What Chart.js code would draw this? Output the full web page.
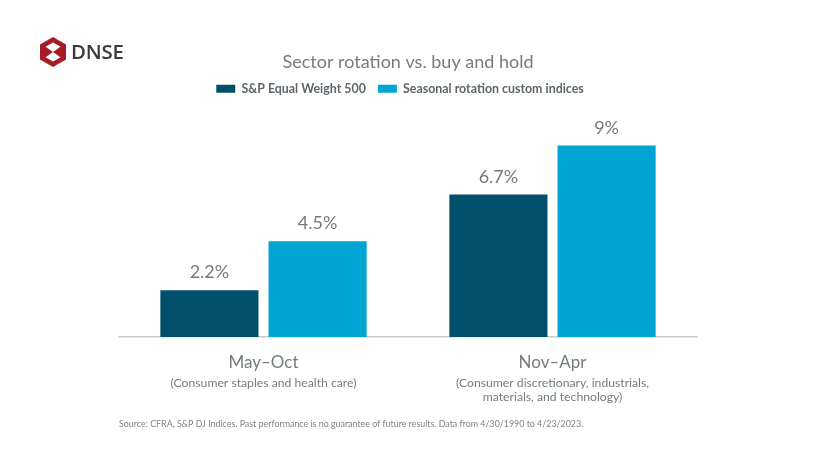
<!DOCTYPE html>
<html><head><meta charset="utf-8">
<script src="https://cdn.jsdelivr.net/npm/chart.js@4"></script>
<style>
html,body{margin:0;padding:0;background:#fff;width:825px;height:450px;overflow:hidden}
#wrap{position:relative;width:825px;height:450px;filter:blur(0.35px)}
#logo{position:absolute;left:40px;top:37px;width:26px;height:30px}
#brand{position:absolute;left:71px;top:38px;font:600 20.4px/26px "Open Sans",sans-serif;color:#3a3a3a;letter-spacing:-0.2px}
canvas{position:absolute;left:0;top:0}
</style></head>
<body><div id="wrap">
<canvas id="c" width="825" height="450"></canvas>
<svg id="logo" viewBox="0 0 26 30"><path fill="#a51c24" fill-rule="evenodd" d="M13 0L26 7.5V22.5L13 30L0 22.5V7.5ZM13 5.5L5.5 9.8L13 15L5.5 20.2L13 24.5L20.5 20.2L13 15L20.5 9.8Z"/></svg>
<div id="brand">DNSE</div>
</div>
<script>
const titleText = "Sector rotation vs. buy and hold";
const categories = ["May–Oct", "Nov–Apr"];
const subLabels = [["(Consumer staples and health care)"], ["(Consumer discretionary, industrials,", "materials, and technology)"]];
const seriesNames = ["S&P Equal Weight 500", "Seasonal rotation custom indices"];
const equalWeight = [2.2, 6.7];
const seasonal = [4.5, 9];
const sourceNote = "Source: CFRA, S&P DJ Indices. Past performance is no guarantee of future results. Data from 4/30/1990 to 4/23/2023.";
const FONT = '"Lato","Noto Sans",sans-serif';
const GREY = '#747c80';

const annotate = {
  id: 'annotate',
  afterLayout(chart) {
    chart.legend.left -= 8;
    chart.legend.right -= 8;
    chart.legend.top -= 7;
    chart.legend.bottom -= 7;
  },
  afterDatasetsDraw(chart) {
    const ctx = chart.ctx;
    ctx.save();
    ctx.textAlign = 'center';
    ctx.textBaseline = 'alphabetic';
    ctx.fillStyle = GREY;
    ctx.font = '18px ' + FONT;
    chart.data.datasets.forEach((ds, i) => {
      chart.getDatasetMeta(i).data.forEach((bar, j) => {
        ctx.fillText(ds.data[j] + '%', bar.x, bar.y - 12);
      });
    });
    ctx.font = '12.2px ' + FONT;
    subLabels.forEach((lines, j) => {
      const x = chart.scales.x.getPixelForValue(j);
      lines.forEach((line, k) => ctx.fillText(line, x, 387 + k * 14));
    });
    ctx.textAlign = 'left';
    ctx.font = '8.9px ' + FONT;
    ctx.fillStyle = '#7d8488';
    ctx.fillText(sourceNote, chart.chartArea.left, 427);
    ctx.restore();
  }
};

new Chart(document.getElementById('c'), {
  type: 'bar',
  data: {
    labels: categories,
    datasets: [
      { label: seriesNames[0], data: equalWeight, backgroundColor: '#00506b' },
      { label: seriesNames[1], data: seasonal, backgroundColor: '#00a5d4' }
    ]
  },
  options: {
    responsive: false,
    animation: false,
    devicePixelRatio: 1,
    layout: { padding: { left: 119, right: 128, top: 51, bottom: 61.5 } },
    datasets: { bar: { categoryPercentage: 0.7487, barPercentage: 0.907 } },
    plugins: {
      title: { display: true, text: titleText, color: GREY, font: { family: FONT, size: 18, weight: 'normal' }, padding: { top: 0, bottom: 5 } },
      legend: {
        display: true,
        labels: { color: '#5f676b', boxWidth: 19, boxHeight: 8, padding: 12, font: { family: FONT, size: 12.4, weight: 'bold' } }
      },
      tooltip: { enabled: false }
    },
    scales: {
      x: {
        grid: { display: false, drawTicks: false },
        border: { display: true, color: '#c9cccd', width: 1.5 },
        ticks: { color: GREY, font: { family: FONT, size: 17 }, padding: 15.5, maxRotation: 0 }
      },
      y: { display: false, min: 0, max: 10.58 }
    }
  },
  plugins: [annotate]
});
</script>
</body></html>
